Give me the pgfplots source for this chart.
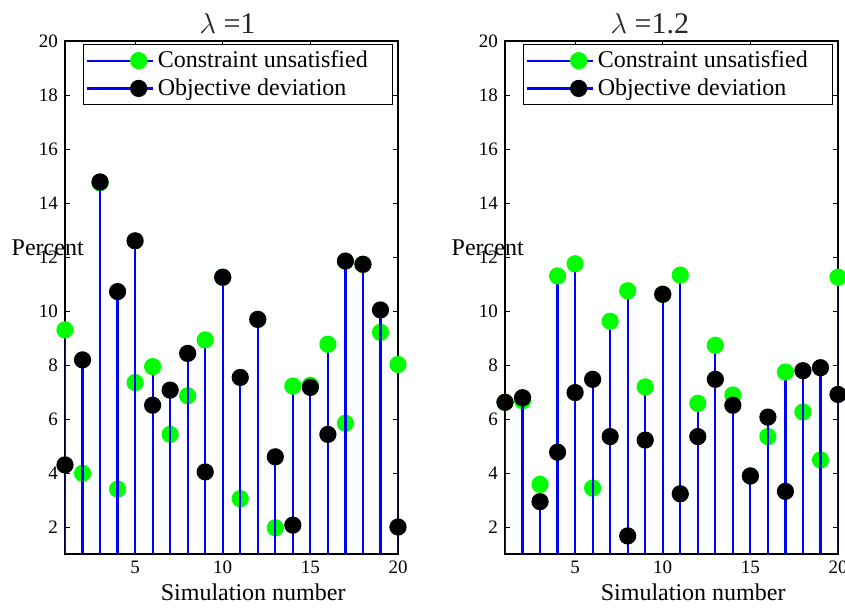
\documentclass[border=0pt]{standalone}
\usepackage{fontspec}
\setmainfont{Liberation Serif}
\usepackage{pgfplots}
\pgfplotsset{compat=1.18}

\definecolor{mgreen}{rgb}{0,1,0}
\definecolor{mblue}{rgb}{0,0,1}

\pgfplotsset{
  stempanel/.style={
    scale only axis, width=166.5pt, height=256.5pt,
    xmin=1, xmax=20, ymin=1, ymax=20,
    xtick={5,10,15,20}, ytick={2,4,...,20},
    tick align=inside, major tick length=2.5pt,
    axis line style={line width=0.6pt},
    tick style={line width=0.5pt, black},
    clip mode=individual,
    tick label style={font=\fontsize{9.5}{10}\selectfont},
    /pgf/number format/assume math mode=true,
    every axis y label/.style={at={(axis description cs:-0.052,0.5965)}, anchor=center,
      font=\fontsize{12}{14}\selectfont},
    every axis x label/.style={at={(axis description cs:0.565,-0.09)}, anchor=base,
      font=\fontsize{12}{14}\selectfont},
    title style={anchor=base, yshift=-6pt, text=black!85, font=\fontsize{15}{17}\selectfont},
    legend style={at={(0.054,0.994)}, anchor=north west, draw=black, line width=0.6pt,
      font=\fontsize{12}{13}\selectfont, inner sep=1pt, row sep=0pt},
    legend cell align=left,
    xlabel={Simulation number}, ylabel={Percent},
  },
  cons/.style={ycomb, mblue, line width=1.1pt, mark=*, mark size=3.75pt,
    mark options={draw=mgreen, fill=mgreen},
    legend image code/.code={\path (-5pt,0pt) -- (28pt,0pt);
      \draw[mblue, line width=1pt] (0pt,0pt) -- (21pt,0pt);
      \fill[mgreen] (21pt,0pt) circle (3.75pt);}},
  obj/.style={ycomb, mblue, line width=1.1pt, mark=*, mark size=3.75pt,
    mark options={draw=black, fill=black},
    legend image code/.code={\path (-5pt,0pt) -- (28pt,0pt);
      \draw[mblue, line width=1pt] (0pt,0pt) -- (21pt,0pt);
      \fill[black] (21pt,0pt) circle (3.75pt);}},
}

\begin{document}
\begin{tikzpicture}
\clip (0pt,0pt) rectangle (422.5pt,303.5pt);
\useasboundingbox (0pt,0pt) rectangle (422.5pt,303.5pt);

% lambda = 1
\begin{axis}[stempanel, at={(32.5pt,26.5pt)}, anchor=south west,
  title={$\lambda$ =1}, title style={at={(axis description cs:0.488,1.0156)}}]
\addplot[cons] coordinates {(1,9.30)(2,3.99)(3,14.75)(4,3.40)(5,7.35)(6,7.94)(7,5.43)(8,6.86)(9,8.93)(10,11.25)
 (11,3.05)(12,9.69)(13,1.97)(14,7.22)(15,7.25)(16,8.77)(17,5.84)(18,11.73)(19,9.21)(20,8.02)};
\addplot[obj] coordinates {(1,4.30)(2,8.19)(3,14.78)(4,10.72)(5,12.60)(6,6.51)(7,7.07)(8,8.43)(9,4.04)(10,11.25)
 (11,7.54)(12,9.69)(13,4.60)(14,2.07)(15,7.17)(16,5.43)(17,11.85)(18,11.73)(19,10.04)(20,2.00)};
\legend{Constraint unsatisfied\hspace*{9.5pt},Objective deviation}
\end{axis}

% lambda = 1.2
\begin{axis}[stempanel, at={(252.5pt,26.5pt)}, anchor=south west,
  title={$\lambda$ =1.2}, title style={at={(axis description cs:0.435,1.0156)}}]
\addplot[cons] coordinates {(1,6.62)(2,6.68)(3,3.58)(4,11.30)(5,11.75)(6,3.44)(7,9.62)(8,10.75)(9,7.19)(10,10.62)
 (11,11.33)(12,6.58)(13,8.73)(14,6.89)(15,3.89)(16,5.35)(17,7.74)(18,6.26)(19,4.48)(20,11.25)};
\addplot[obj] coordinates {(1,6.62)(2,6.79)(3,2.94)(4,4.77)(5,6.98)(6,7.47)(7,5.35)(8,1.67)(9,5.22)(10,10.62)
 (11,3.23)(12,5.35)(13,7.47)(14,6.51)(15,3.89)(16,6.07)(17,3.32)(18,7.79)(19,7.90)(20,6.91)};
\legend{Constraint unsatisfied\hspace*{9.5pt},Objective deviation}
\end{axis}
\end{tikzpicture}
\end{document}
